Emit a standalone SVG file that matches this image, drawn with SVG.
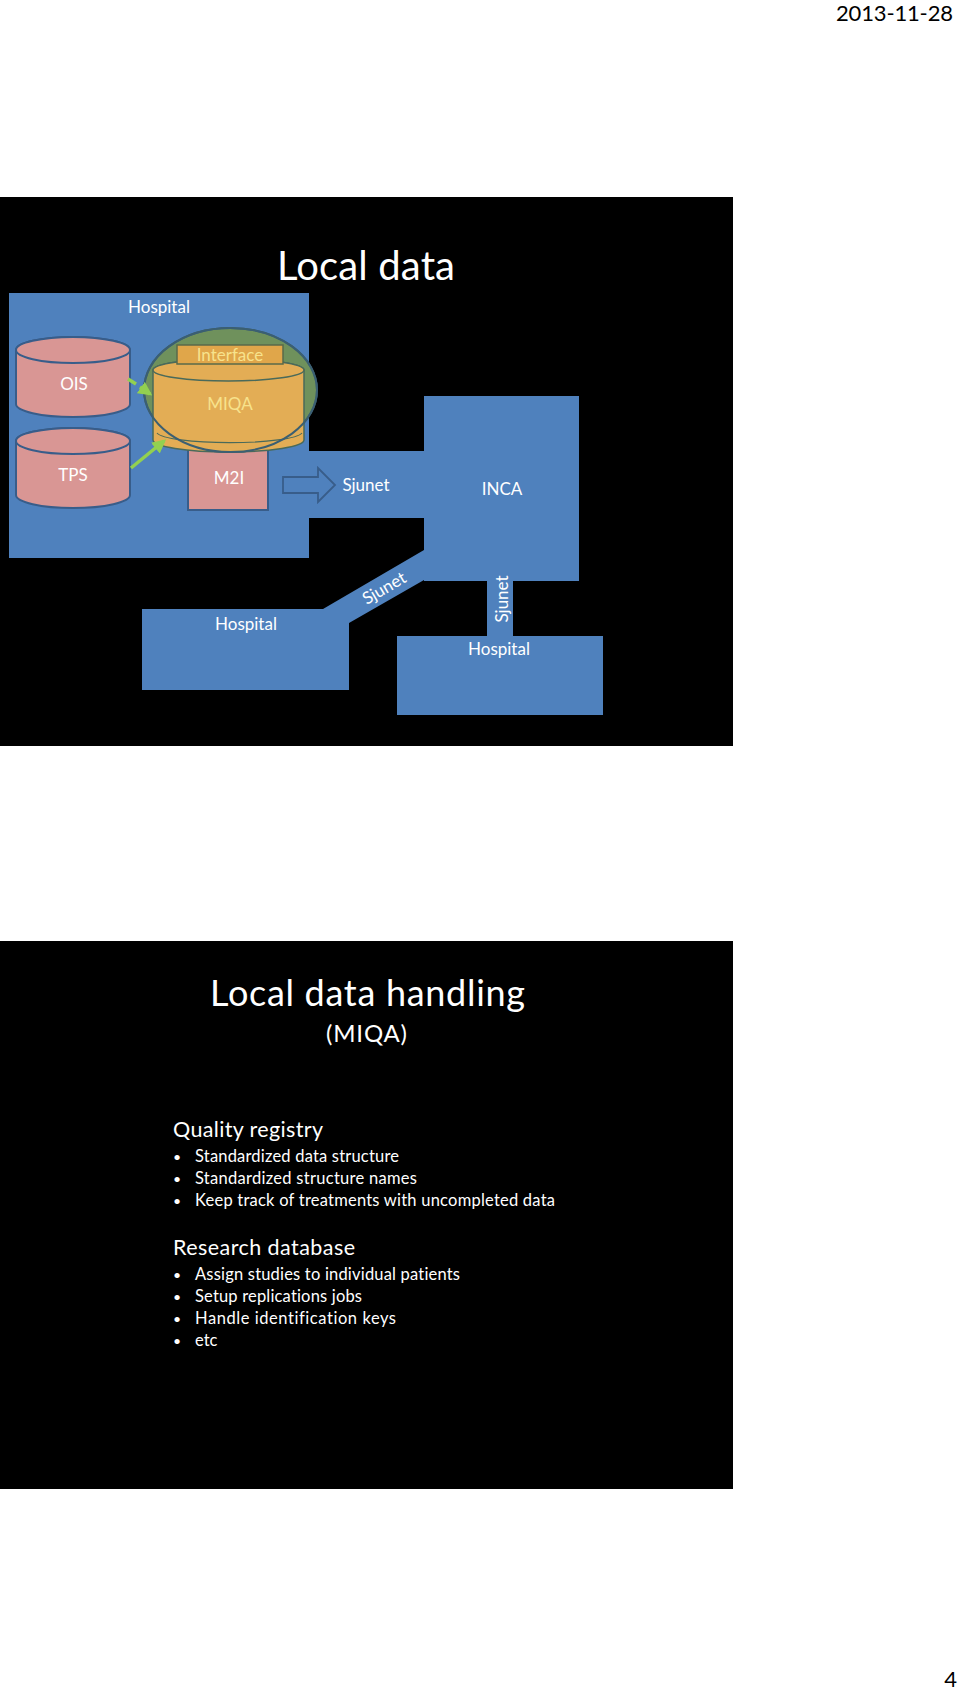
<svg xmlns="http://www.w3.org/2000/svg" width="960" height="1690" viewBox="0 0 960 1690">
<style>
text{font-family:Lato,"Liberation Sans",sans-serif;font-variant-ligatures:none;}
.lbl{fill:#ffffff;font-size:17px;text-anchor:middle;}
.ylbl{fill:#f7e28c;font-size:17px;text-anchor:middle;}
.blue{fill:#4f81bd;}
.cyl{fill:#d99694;stroke:#385d8a;stroke-width:2;}
.body{fill:#ffffff;font-size:16.5px;}
.bul{fill:#ffffff;font-size:14px;}
.head{fill:#ffffff;font-size:21.5px;}
.green{stroke:#92d050;stroke-width:3.5;fill:none;}
</style>
<defs>
<marker id="ga" viewBox="0 0 10 10" refX="8" refY="5" markerWidth="4" markerHeight="4" orient="auto"><path d="M0,0 L10,5 L0,10 z" fill="#92d050"/></marker>
</defs>
<rect x="0" y="0" width="960" height="1690" fill="#ffffff"/>
<text x="953" y="21" font-size="22" fill="#000000" text-anchor="end" textLength="117">2013-11-28</text>
<text x="957" y="1687" font-size="22" fill="#000000" text-anchor="end">4</text>

<g id="slide1">
<rect x="0" y="197" width="733" height="549" fill="#000000"/>
<text x="366" y="280" font-size="40" fill="#ffffff" text-anchor="middle" textLength="178">Local data</text>
</g>

<g id="hospital-main">
<rect class="blue" x="9" y="293" width="300" height="265"/>
<text class="lbl" x="159" y="313">Hospital</text>
</g>

<g id="ois">
<path class="cyl" d="M16,350 L16,404 A57,13 0 0 0 130,404 L130,350 A57,13 0 0 0 16,350 Z"/>
<ellipse class="cyl" cx="73" cy="350" rx="57" ry="13"/>
<text class="lbl" x="74" y="390">OIS</text>
</g>

<g id="tps">
<path class="cyl" d="M16,441 L16,495 A57,13 0 0 0 130,495 L130,441 A57,13 0 0 0 16,441 Z"/>
<ellipse class="cyl" cx="73" cy="441" rx="57" ry="13"/>
<text class="lbl" x="73" y="481">TPS</text>
</g>

<g id="m2i">
<rect x="188" y="445" width="80" height="65" fill="#d99694" stroke="#385d8a" stroke-width="2"/>
<text class="lbl" x="229" y="484">M2I</text>
</g>

<g id="miqa">
<ellipse cx="230.5" cy="390" rx="86.5" ry="62" fill="#6f915c" stroke="#3b5f72" stroke-width="2"/>
<path d="M153,370 L153,440 A75.5,12 0 0 0 304,440 L304,370 A75.5,11 0 0 0 153,370 Z" fill="#e3ad55" stroke="#4a6a5a" stroke-width="1.5"/>
<path d="M157,433 A73,11 0 0 0 302,433" fill="none" stroke="#4a6a5a" stroke-width="1.2"/>
<ellipse cx="228.5" cy="370" rx="75.5" ry="11" fill="#e3ad55" stroke="#4a6a5a" stroke-width="1.5"/>
<ellipse cx="230.5" cy="390" rx="86.5" ry="62" fill="none" stroke="#3b5f72" stroke-width="2"/>
<text class="ylbl" x="230" y="410">MIQA</text>
</g>

<g id="interface">
<rect x="177" y="345" width="106" height="19" fill="#e0a64a" stroke="#5a6a4a" stroke-width="1.5"/>
<text class="ylbl" x="230" y="361">Interface</text>
</g>

<g id="sjunet-main">
<rect class="blue" x="309" y="451" width="116" height="67"/>
<text class="lbl" x="366" y="491">Sjunet</text>
</g>

<g id="inca">
<rect class="blue" x="424" y="396" width="155" height="185"/>
<text class="lbl" x="502" y="495">INCA</text>
</g>

<g id="hospital-left">
<polygon class="blue" points="142,609 323,609 424,550 424,580 349,623 349,690 142,690"/>
<text class="lbl" x="246" y="630">Hospital</text>
<text class="lbl" transform="translate(384,588) rotate(-30.3)" y="6">Sjunet</text>
</g>

<g id="hospital-right">
<rect class="blue" x="487" y="580" width="26" height="57"/>
<rect class="blue" x="397" y="636" width="206" height="79"/>
<text class="lbl" transform="translate(502,599) rotate(-90)" y="6">Sjunet</text>
<text class="lbl" x="499" y="655">Hospital</text>
</g>

<g id="connectors">
<path class="green" d="M128,379 L136,384" />
<path class="green" d="M140,387 L150,394" marker-end="url(#ga)"/>
<path class="green" d="M131,468 L164,441" marker-end="url(#ga)"/>
<polygon points="283,477 318,477 318,468 335,485 318,502 318,493 283,493" fill="#4f81bd" stroke="#385d8a" stroke-width="1.8"/>
</g>

<g id="slide2">
<rect x="0" y="941" width="733" height="548" fill="#000000"/>
<text x="210" y="1006" font-size="36" fill="#ffffff" textLength="315">Local data handling</text>
<text x="366.5" y="1042" font-size="24" fill="#ffffff" text-anchor="middle" textLength="81">(MIQA)</text>
<text class="head" x="173" y="1137" textLength="150">Quality registry</text>
<text class="bul" x="173" y="1162">•</text>
<text class="body" x="195" y="1162" textLength="204">Standardized data structure</text>
<text class="bul" x="173" y="1184">•</text>
<text class="body" x="195" y="1184" textLength="222">Standardized structure names</text>
<text class="bul" x="173" y="1206">•</text>
<text class="body" x="195" y="1206" textLength="360">Keep track of treatments with uncompleted data</text>
<text class="head" x="173" y="1255" textLength="182">Research database</text>
<text class="bul" x="173" y="1280">•</text>
<text class="body" x="195" y="1280" textLength="265">Assign studies to individual patients</text>
<text class="bul" x="173" y="1302">•</text>
<text class="body" x="195" y="1302" textLength="167">Setup replications jobs</text>
<text class="bul" x="173" y="1324">•</text>
<text class="body" x="195" y="1324" textLength="201">Handle identification keys</text>
<text class="bul" x="173" y="1346">•</text>
<text class="body" x="195" y="1346">etc</text>
</g>
</svg>
